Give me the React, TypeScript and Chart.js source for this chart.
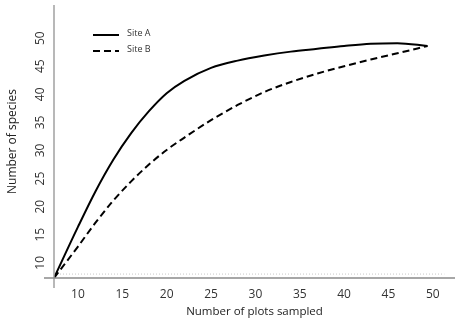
import React, { useEffect, useRef } from "react";
import { Chart, registerables } from "chart.js";

Chart.register(...registerables);

const PLOTS = [7.3, 10, 12, 14, 16, 18, 20, 22, 25, 28, 31, 34, 37, 40, 43, 46, 49.4];
const SITE_A = [7.3, 16.4, 22.8, 28.4, 33.1, 37.0, 40.2, 42.4, 44.7, 46.0, 46.9, 47.6, 48.1, 48.6, 49.0, 49.1, 48.6];
const SITE_B = [7.3, 12.9, 17.2, 21.1, 24.5, 27.5, 30.1, 32.3, 35.4, 38.1, 40.4, 42.2, 43.7, 45.0, 46.2, 47.3, 48.6];
const X_TICKS = [10, 15, 20, 25, 30, 35, 40, 45, 50];
const Y_TICKS = [10, 15, 20, 25, 30, 35, 40, 45, 50];
const BASELINE = [{ x: 7.3, y: 8 }, { x: 51.3, y: 8 }];
const SERIES_NAMES = ["Site A", "Site B"];
const X_TITLE = "Number of plots sampled";
const Y_TITLE = "Number of species";

const FONT = "'Open Sans', 'DejaVu Sans', sans-serif";

const customPlugin = {
  id: "custom",
  afterDraw(chart: any) {
    const ctx = chart.ctx;
    const area = chart.chartArea;
    const ys = chart.scales.y;
    ctx.save();
    // axes
    ctx.strokeStyle = "#a0a0a0";
    ctx.lineWidth = 1.5;
    ctx.beginPath();
    ctx.moveTo(area.left, area.top);
    ctx.lineTo(area.left, area.bottom + 10);
    ctx.stroke();
    ctx.strokeStyle = "#8a8a8a";
    ctx.beginPath();
    ctx.moveTo(area.left - 10, area.bottom);
    ctx.lineTo(area.right, area.bottom);
    ctx.stroke();
    // y tick labels rotated
    ctx.fillStyle = "#333";
    ctx.font = `12px ${FONT}`;
    ctx.textAlign = "center";
    ctx.textBaseline = "middle";
    Y_TICKS.forEach((v) => {
      const py = ys.getPixelForValue(v);
      ctx.save();
      ctx.translate(area.left - 13, py);
      ctx.rotate(-Math.PI / 2);
      ctx.fillText(String(v), 0, 0);
      ctx.restore();
    });
    // y title
    ctx.save();
    ctx.font = `12px ${FONT}`;
    ctx.fillStyle = "#222";
    ctx.translate(13, (area.top + area.bottom) / 2);
    ctx.rotate(-Math.PI / 2);
    ctx.fillText(Y_TITLE, 0, 0);
    ctx.restore();
    // legend
    const items = chart.data.datasets.slice(0, 2);
    items.forEach((ds: any, i: number) => {
      const y = 35 + i * 16;
      ctx.strokeStyle = ds.borderColor;
      ctx.lineWidth = 2;
      ctx.setLineDash(ds.borderDash || []);
      ctx.beginPath();
      ctx.moveTo(93, y);
      ctx.lineTo(119, y);
      ctx.stroke();
      ctx.setLineDash([]);
      ctx.fillStyle = "#333";
      ctx.font = `9px ${FONT}`;
      ctx.textAlign = "left";
      ctx.fillText(ds.label, 127, y - 2);
    });
    ctx.restore();
  },
};

export default function App() {
  const ref = useRef<HTMLCanvasElement>(null);
  useEffect(() => {
    if (!ref.current) return;
    const chart = new Chart(ref.current, {
      type: "line",
      data: {
        datasets: [
          {
            label: SERIES_NAMES[0],
            data: PLOTS.map((x, i) => ({ x, y: SITE_A[i] })),
            borderColor: "#000",
            borderWidth: 2,
            pointRadius: 0,
            cubicInterpolationMode: "monotone",
            fill: false,
          },
          {
            label: SERIES_NAMES[1],
            data: PLOTS.map((x, i) => ({ x, y: SITE_B[i] })),
            borderColor: "#000",
            borderWidth: 2,
            borderDash: [7, 4],
            pointRadius: 0,
            cubicInterpolationMode: "monotone",
            fill: false,
          },
          {
            label: "baseline",
            data: BASELINE,
            borderColor: "#c8c8c8",
            borderWidth: 1,
            borderDash: [1, 2],
            pointRadius: 0,
            fill: false,
          },
        ],
      },
      options: {
        animation: false,
        responsive: false,
        maintainAspectRatio: false,
        layout: { padding: { left: 0, top: 5, right: 6, bottom: 0 } },
        plugins: { legend: { display: false }, tooltip: { enabled: false } },
        scales: {
          x: {
            type: "linear",
            min: 7.3,
            max: 52.5,
            grid: { display: false, drawTicks: false },
            border: { display: false },
            afterBuildTicks: (s: any) => {
              s.ticks = X_TICKS.map((v) => ({ value: v }));
            },
            afterFit: (s: any) => {
              s.height = 45;
            },
            ticks: {
              padding: 9,
              color: "#333",
              font: { family: FONT, size: 12 },
              maxRotation: 0,
              autoSkip: false,
            },
            title: {
              display: true,
              text: X_TITLE,
              color: "#222",
              font: { family: FONT, size: 11.5 },
              padding: { top: 0, bottom: 4 },
            },
          },
          y: {
            type: "linear",
            min: 7.3,
            max: 55.9,
            grid: { display: false, drawTicks: false },
            border: { display: false },
            ticks: { display: false },
            afterFit: (s: any) => {
              s.width = 54;
            },
          },
        },
      },
      plugins: [customPlugin],
    });
    return () => chart.destroy();
  }, []);
  return (
    <div style={{ position: "fixed", left: 0, top: 0, width: 461, height: 323, background: "#fff" }}>
      <canvas ref={ref} width={461} height={323} style={{ width: 461, height: 323 }} />
    </div>
  );
}
